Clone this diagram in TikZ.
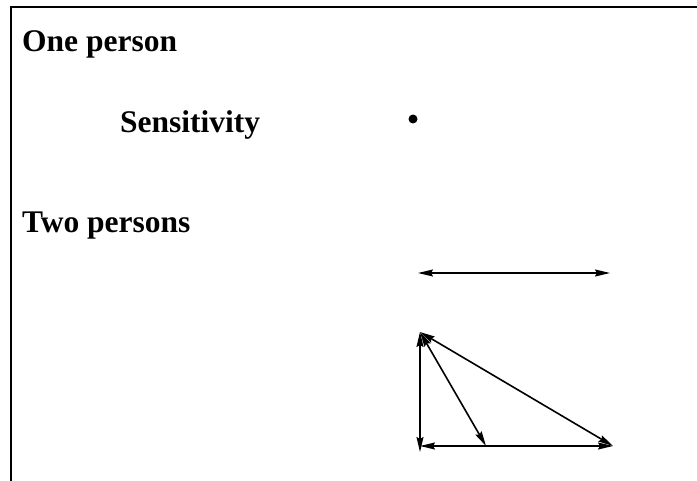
\documentclass[tikz,border=0pt]{standalone}
\usepackage{fontspec}
\setmainfont{Liberation Serif}
\usetikzlibrary{arrows.meta}

\begin{document}
\begin{tikzpicture}[x=1bp,y=-1bp,
  lbl/.style={font=\fontsize{31.5bp}{36bp}\selectfont\bfseries,inner sep=0pt,anchor=base west},
  dbl/.style={{Stealth[length=15bp,width=7bp,inset=2bp]}-{Stealth[length=15bp,width=7bp,inset=2bp]},line width=1.6bp}]
  \useasboundingbox (0,0) rectangle (697,481);
  % frame, cut at right and bottom
  \coordinate (fb) at (11,481); \coordinate (fc) at (11,7); \coordinate (fr) at (697,7);
  \draw[line width=2bp] (fb) -- (fc) -- (fr);
  \node[lbl] (one) at (22,52) {One person};
  \node[lbl] (sens) at (120,133) {Sensitivity};
  \node[lbl] (two) at (22,233) {Two persons};
  \fill (413,119) circle (4.5);
  % two persons
  \coordinate (pl) at (418,273); \coordinate (pr) at (610,273);
  \draw[dbl] (pl) -- (pr);
  \coordinate (tl) at (420,332); \coordinate (bl) at (420,452);
  \coordinate (bs) at (420,446); \coordinate (bm) at (486,446); \coordinate (br) at (613,446);
  \draw[dbl] (tl) -- (bl);
  \draw[dbl] (bs) -- (br);
  \draw[dbl] (tl) -- (br);
  \draw[dbl] (tl) -- (bm);
\end{tikzpicture}
\end{document}
